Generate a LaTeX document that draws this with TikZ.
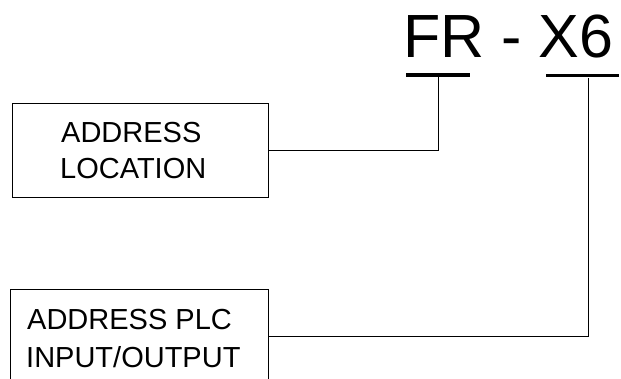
\documentclass[tikz,border=0pt]{standalone}
\usepackage{fontspec}
\setmainfont{Liberation Sans}
\usetikzlibrary{calc}
\begin{document}
\begin{tikzpicture}[x=1pt,y=-1pt,
  box/.style={draw, line width=1pt, rectangle, inner sep=0pt, anchor=north west},
  lbl/.style={font=\fontsize{29}{36}\selectfont, inner sep=0pt, anchor=base west},
  ttl/.style={font=\fontsize{61}{70}\selectfont, inner sep=0pt, anchor=base west},
  ul/.style={fill=black, inner sep=0pt, minimum height=3.8pt},
  conn/.style={draw, line width=1pt}]
\useasboundingbox (0,0) rectangle (621,379);
\clip (0,0) rectangle (621,379);
% title
\node[ttl] (title) at (403,58) {FR - X6};
\node[ul, minimum width=64pt] (ufr) at (438,75) {};
\node[ul, minimum width=73pt] (ux6) at (582.5,75.5) {};
\coordinate (x6tap) at ($(ux6.south)+(5.5,0)$);
% boxes
\node[box, minimum width=256pt, minimum height=94pt] (loc) at (12,103) {};
\node[lbl] (loc1) at (61,143) {ADDRESS};
\node[lbl] (loc2) at (60,179) {LOCATION};
\node[box, minimum width=258pt, minimum height=120pt] (plc) at (10,289) {};
\node[lbl] (plc1) at (27,330) {ADDRESS PLC};
\node[lbl] (plc2) at (26,367) {INPUT/OUTPUT};
% connectors
\draw[conn] (loc.east) -| (ufr.south);
\coordinate (plcout) at ($(plc.north east)+(0,47)$);
\draw[conn] (plcout) -| (x6tap);
\end{tikzpicture}
\end{document}
